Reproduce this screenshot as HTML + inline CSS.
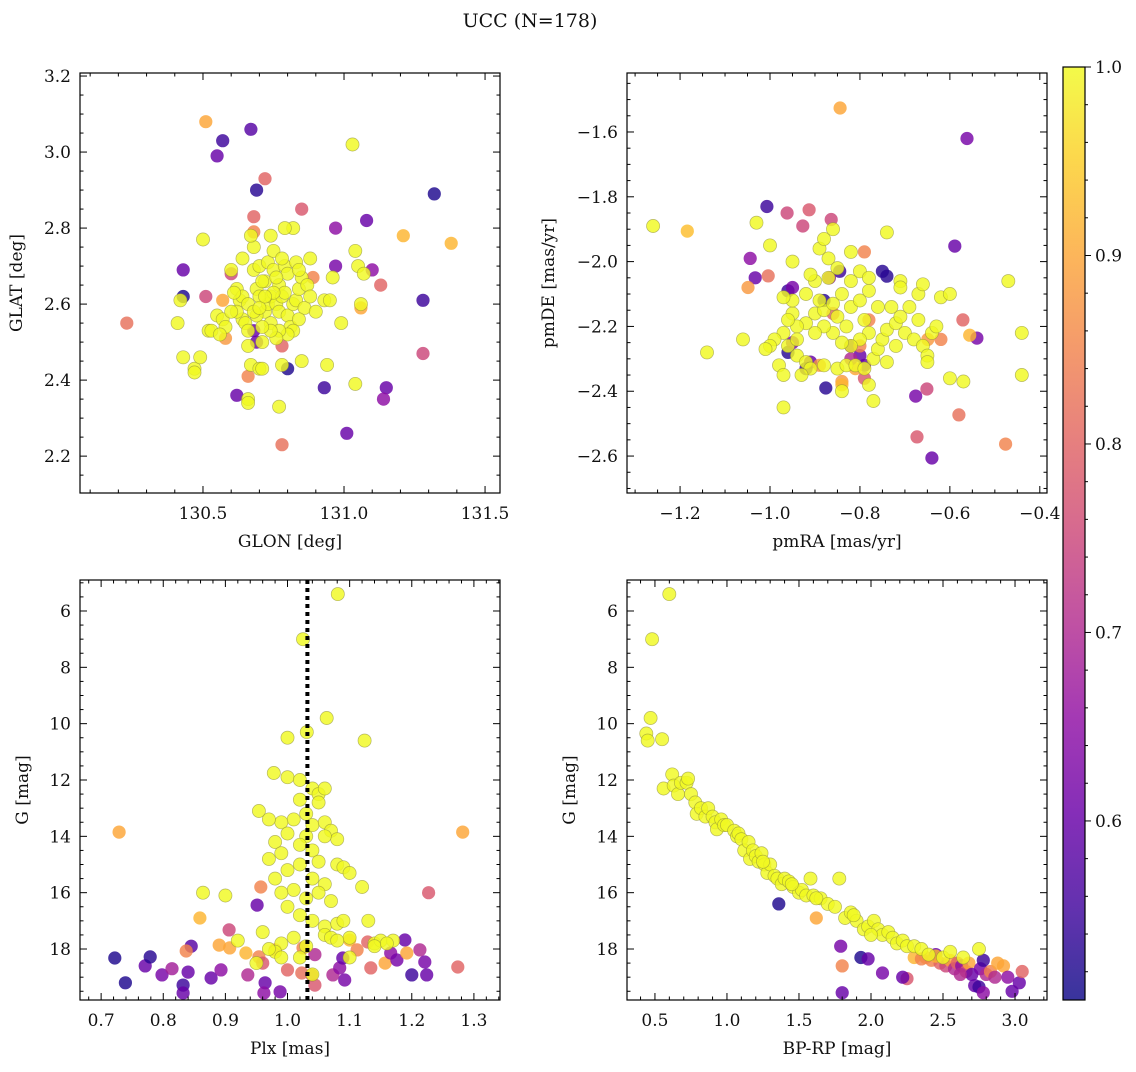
<!DOCTYPE html>
<html><head><meta charset="utf-8"><style>
html,body{margin:0;padding:0;background:#fff;}
svg text{font-family:"DejaVu Serif","Liberation Serif",serif;fill:#111;}
</style></head><body>
<svg id="fig" width="1136" height="1067" viewBox="0 0 1136 1067" xmlns="http://www.w3.org/2000/svg">
<defs><linearGradient id="cmap" x1="0" y1="1" x2="0" y2="0">
<stop offset="0" stop-color="#0d0887"/><stop offset="0.1" stop-color="#41049d"/><stop offset="0.2" stop-color="#6a00a8"/><stop offset="0.3" stop-color="#8f0da4"/><stop offset="0.4" stop-color="#b12a90"/><stop offset="0.5" stop-color="#cc4778"/><stop offset="0.6" stop-color="#e16462"/><stop offset="0.7" stop-color="#f2844b"/><stop offset="0.8" stop-color="#fca636"/><stop offset="0.9" stop-color="#fcce25"/><stop offset="1" stop-color="#f0f921"/></linearGradient></defs>
<text x="530" y="27" text-anchor="middle" font-size="19">UCC (N=178)</text>
</svg>
<script>
// ---- data: [x, y, membership probability] ----
const glonGlat = [
[130.51,3.08,.9],[130.57,3.03,.55],[130.55,2.99,.6],[130.67,3.06,.58],[130.69,2.90,.53],[130.72,2.93,.8],[131.03,3.02,1],[131.32,2.89,.52],[130.85,2.85,.78],[130.23,2.55,.82],[131.38,2.76,.92],[131.21,2.78,.92],[130.68,2.83,.8],[130.97,2.80,.65],[131.08,2.82,.6],[130.43,2.69,.6],[130.43,2.62,.52],[130.51,2.62,.75],[130.60,2.68,.75],[131.10,2.69,.65],[131.13,2.65,.8],[131.28,2.61,.55],[131.28,2.47,.75],[130.62,2.36,.6],[130.80,2.43,.52],[130.78,2.23,.82],[131.01,2.26,.6],[130.93,2.38,.55],[131.15,2.38,.6],[131.14,2.35,.65],[130.66,2.41,.85],[130.69,2.50,.6],[130.78,2.49,.8],[131.06,2.59,.9],[130.97,2.70,.62],[130.89,2.67,.85],[130.57,2.61,.9],[130.58,2.51,.88],[130.68,2.79,.85],[130.68,2.53,.6],
[130.42,2.61,1],[130.41,2.55,1],[130.43,2.46,1],[130.47,2.43,1],[130.47,2.42,1],[130.49,2.46,1],[130.52,2.53,1],[130.53,2.53,1],[130.55,2.57,1],[130.57,2.56,1],[130.60,2.69,1],[130.62,2.64,1],[130.63,2.61,1],[130.64,2.62,1],[130.64,2.56,1],[130.65,2.55,1],[130.66,2.53,1],[130.66,2.60,1],[130.66,2.49,1],[130.67,2.44,1],[130.66,2.35,1],[130.66,2.34,1],[130.70,2.43,1],[130.71,2.43,1],[130.71,2.50,1],[130.68,2.69,1],[130.69,2.64,1],[130.68,2.75,1],[130.70,2.70,1],[130.72,2.66,1],[130.73,2.71,1],[130.74,2.78,1],[130.75,2.69,1],[130.75,2.74,1],[130.72,2.58,1],[130.73,2.60,1],[130.74,2.62,1],[130.74,2.55,1],[130.76,2.60,1],[130.77,2.58,1],[130.77,2.65,1],[130.78,2.62,1],[130.79,2.63,1],[130.79,2.70,1],[130.80,2.68,1],[130.80,2.57,1],[130.81,2.54,1],[130.82,2.60,1],[130.83,2.61,1],[130.84,2.64,1],[130.85,2.67,1],[130.86,2.59,1],[130.84,2.56,1],[130.82,2.53,1],[130.80,2.52,1],[130.77,2.53,1],[130.76,2.51,1],[130.74,2.53,1],[130.71,2.54,1],[130.69,2.57,1],[130.70,2.62,1],[130.71,2.66,1],[130.78,2.44,1],[130.77,2.33,1],[130.85,2.45,1],[130.94,2.44,1],[130.99,2.55,1],[130.93,2.61,1],[130.95,2.61,1],[130.96,2.67,1],[131.04,2.74,1],[131.05,2.70,1],[131.07,2.68,1],[131.06,2.60,1],[131.04,2.39,1],[130.82,2.80,1],[130.79,2.80,1],[130.78,2.72,1],[130.83,2.71,1],[130.84,2.69,1],[130.87,2.65,1],[130.90,2.58,1],[130.88,2.62,1],[130.62,2.58,1],[130.61,2.63,1],[130.60,2.58,1],[130.58,2.54,1],[130.68,2.58,1],[130.70,2.59,1],[130.76,2.67,1],[130.75,2.63,1],[130.72,2.62,1],[130.50,2.77,1],[130.56,2.52,1],[130.64,2.72,1],[130.67,2.78,1],[130.88,2.72,1]];
const pmraPmde = [
[-0.844,-1.526,.9],[-0.562,-1.62,.62],[-1.184,-1.906,.93],[-1.007,-1.83,.55],[-0.962,-1.85,.75],[-0.913,-1.84,.78],[-0.864,-1.87,.75],[-0.927,-1.89,.75],[-1.044,-1.99,.65],[-1.033,-2.05,.6],[-1.004,-2.044,.82],[-1.049,-2.08,.88],[-0.876,-2.39,.53],[-0.676,-2.415,.62],[-0.673,-2.541,.78],[-0.64,-2.606,.6],[-0.651,-2.393,.75],[-0.58,-2.473,.82],[-0.476,-2.563,.85],[-0.589,-1.952,.6],[-0.571,-2.18,.8],[-0.54,-2.236,.62],[-0.556,-2.227,.92],[-0.62,-2.24,.85],[-0.649,-2.24,.88],[-0.75,-2.03,.53],[-0.74,-2.045,.53],[-0.79,-1.97,.85],[-0.845,-2.03,.55],[-0.868,-2.05,.65],[-0.96,-2.09,.55],[-0.95,-2.08,.62],[-0.82,-2.26,.6],[-0.84,-2.37,.88],[-0.84,-2.38,.92],[-0.80,-2.29,.6],[-0.79,-2.32,.6],[-0.80,-2.26,.85],[-0.91,-2.31,.6],[-0.92,-2.33,.55],[-0.96,-2.28,.53],[-0.95,-2.25,.62],[-0.89,-2.32,.88],[-0.79,-2.36,.78],[-0.86,-2.16,.8],[-0.88,-2.12,.53],[-0.78,-2.18,.85],[-0.81,-2.33,.9],[-0.82,-2.30,.7],
[-0.90,-2.16,1],[-0.88,-2.15,1],[-0.86,-2.13,1],[-0.85,-2.17,1],[-0.83,-2.20,1],[-0.82,-2.14,1],[-0.80,-2.12,1],[-0.79,-2.18,1],[-0.78,-2.22,1],[-0.80,-2.24,1],[-0.82,-2.26,1],[-0.84,-2.25,1],[-0.86,-2.22,1],[-0.88,-2.20,1],[-0.90,-2.22,1],[-0.92,-2.19,1],[-0.94,-2.20,1],[-0.95,-2.16,1],[-0.96,-2.18,1],[-0.97,-2.22,1],[-0.96,-2.26,1],[-0.94,-2.29,1],[-0.92,-2.31,1],[-0.91,-2.33,1],[-0.88,-2.32,1],[-0.85,-2.33,1],[-0.83,-2.32,1],[-0.81,-2.32,1],[-0.79,-2.33,1],[-0.77,-2.30,1],[-0.76,-2.27,1],[-0.75,-2.24,1],[-0.74,-2.21,1],[-0.72,-2.19,1],[-0.71,-2.17,1],[-0.73,-2.14,1],[-0.76,-2.14,1],[-0.78,-2.09,1],[-0.80,-2.03,1],[-0.82,-1.97,1],[-0.85,-2.02,1],[-0.87,-1.99,1],[-0.89,-1.96,1],[-0.88,-1.93,1],[-0.86,-1.90,1],[-0.87,-2.05,1],[-0.90,-2.06,1],[-0.92,-2.10,1],[-0.95,-2.12,1],[-0.97,-2.11,1],[-0.99,-2.24,1],[-1.00,-2.26,1],[-1.01,-2.27,1],[-0.98,-2.32,1],[-0.97,-2.35,1],[-0.97,-2.45,1],[-0.93,-2.35,1],[-0.78,-2.38,1],[-0.77,-2.43,1],[-0.74,-2.31,1],[-0.72,-2.26,1],[-0.70,-2.22,1],[-0.68,-2.24,1],[-0.66,-2.26,1],[-0.65,-2.29,1],[-0.65,-2.31,1],[-0.64,-2.22,1],[-0.63,-2.20,1],[-0.67,-2.18,1],[-0.69,-2.14,1],[-0.71,-2.06,1],[-0.71,-2.08,1],[-0.67,-2.10,1],[-0.66,-2.07,1],[-0.62,-2.11,1],[-0.60,-2.10,1],[-0.60,-2.36,1],[-0.57,-2.37,1],[-0.47,-2.06,1],[-0.44,-2.22,1],[-0.44,-2.35,1],[-0.74,-1.91,1],[-1.00,-1.95,1],[-1.03,-1.88,1],[-1.06,-2.24,1],[-1.14,-2.28,1],[-1.26,-1.89,1],[-0.91,-2.04,1],[-0.95,-2.00,1],[-0.89,-2.12,1],[-0.84,-2.10,1],[-0.82,-2.06,1],[-0.78,-2.05,1],[-0.84,-2.40,1],[-0.94,-2.24,1]];
const plxG = [
[0.722,18.32,.52],[0.739,19.2,.52],[0.771,18.6,.6],[0.779,18.28,.53],[0.798,18.92,.62],[0.814,18.7,.68],[0.832,19.28,.55],[0.832,19.56,.6],[0.84,18.82,.6],[0.845,17.9,.58],[0.837,18.07,.85],[0.877,19.03,.6],[0.893,18.74,.65],[0.89,17.86,.9],[0.907,17.96,.9],[0.906,17.32,.75],[0.933,18.14,.92],[0.936,18.92,.7],[0.954,18.28,.85],[0.96,18.5,.78],[0.964,19.2,.6],[0.962,19.56,.65],[0.988,19.52,.62],[0.957,15.8,.85],[0.951,16.44,.6],[0.98,18.03,.9],[1.0,18.74,.8],[1.023,18.85,.82],[1.025,17.96,.85],[1.044,18.2,.7],[1.039,18.92,.78],[1.044,19.28,.78],[1.073,18.92,.7],[1.084,18.67,.65],[1.089,18.32,.6],[1.092,19.1,.62],[1.1,17.68,.92],[1.112,18.03,.85],[1.129,17.75,.8],[1.134,18.67,.8],[1.157,18.5,.9],[1.166,18.14,.65],[1.176,18.39,.62],[1.189,17.68,.6],[1.192,18.14,.9],[1.2,18.92,.55],[1.213,18.03,.7],[1.221,18.46,.62],[1.224,18.92,.6],[1.227,16.0,.78],[1.274,18.64,.8],[0.729,13.85,.9],[1.282,13.85,.9],[0.859,16.9,.92],
[1.081,5.4,1],[1.025,7.0,1],[1.063,9.8,1],[1.0,10.5,1],[1.031,10.3,1],[1.124,10.6,1],[0.978,11.75,1],[0.954,13.1,1],[1.0,11.9,1],[1.02,12.0,1],[1.04,12.3,1],[1.05,12.5,1],[1.06,12.3,1],[1.05,12.8,1],[1.02,12.7,1],[1.03,13.2,1],[1.01,13.4,1],[0.99,13.5,1],[0.97,13.4,1],[1.04,13.6,1],[1.06,13.5,1],[1.07,13.8,1],[1.08,14.1,1],[1.06,14.0,1],[1.03,14.0,1],[1.00,13.9,1],[0.98,14.2,1],[1.02,14.3,1],[1.04,14.5,1],[0.99,14.6,1],[0.97,14.8,1],[1.05,14.9,1],[1.08,15.0,1],[1.09,15.1,1],[1.02,15.0,1],[1.00,15.2,1],[0.98,15.5,1],[1.04,15.5,1],[1.06,15.7,1],[1.10,15.3,1],[1.12,15.8,1],[1.01,15.9,1],[0.99,16.0,1],[1.03,16.2,1],[1.05,16.0,1],[1.07,16.3,1],[1.00,16.5,1],[1.02,16.8,1],[1.04,17.0,1],[1.06,17.2,1],[1.08,17.1,1],[1.09,17.0,1],[1.10,17.6,1],[1.06,17.5,1],[1.07,17.6,1],[1.01,17.6,1],[0.99,17.8,1],[1.03,17.9,1],[1.08,17.7,1],[1.13,17.0,1],[1.14,17.8,1],[1.15,17.7,1],[1.14,17.9,1],[1.17,17.7,1],[0.96,17.4,1],[0.98,18.1,1],[0.99,18.3,1],[0.97,18.0,1],[0.95,18.5,1],[0.92,17.7,1],[0.90,16.1,1],[0.864,16.0,1],[1.02,18.3,1],[1.16,17.8,1],[1.04,18.9,1],[1.10,18.3,1]];
const bprpG = [
[1.36,16.4,.52],[1.62,16.9,.9],[1.79,17.9,.62],[1.80,18.6,.85],[1.80,19.55,.6],[1.93,18.3,.52],[1.98,18.35,.6],[2.08,18.85,.62],[2.25,19.05,.78],[2.22,19.0,.6],[2.30,18.3,.92],[2.38,18.3,.9],[2.42,18.4,.85],[2.45,18.2,.6],[2.48,18.5,.8],[2.52,18.6,.75],[2.55,18.4,.9],[2.58,18.7,.7],[2.60,18.5,.8],[2.63,18.6,.65],[2.66,18.8,.78],[2.68,18.5,.9],[2.70,18.9,.6],[2.72,19.3,.6],[2.75,19.35,.55],[2.76,18.7,.62],[2.78,18.4,.55],[2.80,18.9,.7],[2.83,18.8,.85],[2.86,19.0,.7],[2.88,18.5,.9],[2.92,18.6,.9],[2.95,19.0,.65],[2.98,19.5,.6],[3.03,19.2,.6],[3.05,18.8,.8],[2.78,19.55,.65],[2.62,18.9,.7],[2.45,18.25,.92],[2.35,18.35,.85],
[0.60,5.4,1],[0.48,7.0,1],[0.47,9.8,1],[0.44,10.35,1],[0.45,10.6,1],[0.55,10.55,1],[0.56,12.3,1],[0.62,11.8,1],[0.63,12.2,1],[0.66,12.5,1],[0.68,12.1,1],[0.72,12.1,1],[0.73,11.95,1],[0.75,12.5,1],[0.78,12.8,1],[0.79,13.2,1],[0.82,13.0,1],[0.85,13.3,1],[0.87,13.0,1],[0.90,13.3,1],[0.92,13.5,1],[0.93,13.75,1],[0.96,13.4,1],[0.98,13.6,1],[1.00,13.6,1],[1.05,13.8,1],[1.07,14.0,1],[1.08,13.9,1],[1.10,14.1,1],[1.12,14.5,1],[1.15,14.2,1],[1.16,14.8,1],[1.18,14.5,1],[1.20,14.7,1],[1.22,14.9,1],[1.24,14.6,1],[1.26,15.0,1],[1.28,15.3,1],[1.30,15.0,1],[1.33,15.4,1],[1.35,15.5,1],[1.38,15.7,1],[1.40,15.5,1],[1.43,15.6,1],[1.46,15.8,1],[1.50,16.0,1],[1.52,15.9,1],[1.55,16.1,1],[1.58,15.5,1],[1.60,16.1,1],[1.65,16.2,1],[1.70,16.4,1],[1.75,16.5,1],[1.78,15.5,1],[1.82,16.9,1],[1.86,16.7,1],[1.90,17.0,1],[1.95,17.3,1],[1.98,17.2,1],[2.02,17.0,1],[2.05,17.3,1],[2.08,17.5,1],[2.12,17.4,1],[2.15,17.6,1],[2.18,17.8,1],[2.22,17.7,1],[2.25,17.9,1],[2.30,17.9,1],[2.35,18.0,1],[2.40,18.2,1],[2.50,18.3,1],[2.55,18.1,1],[2.75,18.0,1],[2.64,18.3,1],[2.00,17.5,1],[1.88,16.8,1],[1.62,16.2,1],[1.45,15.7,1],[1.25,14.9,1]];
const plxMedian = 1.032;
const cbarTicks = [0.6,0.7,0.8,0.9,1.0];

const NS='http://www.w3.org/2000/svg';
const svg=document.getElementById('fig');
function mk(tag,attrs,parent){const e=document.createElementNS(NS,tag);for(const k in attrs)e.setAttribute(k,attrs[k]);(parent||svg).appendChild(e);return e;}
const stops=[[0,[13,8,135]],[.1,[65,4,157]],[.2,[106,0,168]],[.3,[143,13,164]],[.4,[177,42,144]],[.5,[204,71,120]],[.6,[225,100,98]],[.7,[242,132,75]],[.8,[252,166,54]],[.9,[252,206,37]],[1,[240,249,33]]];
const VMIN=0.505,VMAX=1.0;
function cmap(v){let t=Math.max(0,Math.min(1,(v-VMIN)/(VMAX-VMIN)));for(let i=1;i<stops.length;i++){if(t<=stops[i][0]){const a=stops[i-1],b=stops[i];const f=(t-a[0])/(b[0]-a[0]);const c=a[1].map((x,j)=>Math.round(x+(b[1][j]-x)*f));return `rgb(${c})`;}}return 'rgb(240,249,33)';}
function fmt(v,dec){return v.toFixed(dec).replace('-','\u2212');}

function panel(o){
  const g=mk('g',{});
  
  
  const sx=v=>o.x0+(v-o.xmin)/(o.xmax-o.xmin)*(o.x1-o.x0);
  const sy=o.invert? v=>o.y0+(v-o.ymin)/(o.ymax-o.ymin)*(o.y1-o.y0) : v=>o.y1-(v-o.ymin)/(o.ymax-o.ymin)*(o.y1-o.y0);
  const pts=mk('g',{},g);
  
  
  o.data.forEach(d=>{const c=mk('circle',{cx:sx(d[0]).toFixed(1),cy:sy(d[1]).toFixed(1),r:6.6,fill:cmap(d[2]),'fill-opacity':0.82,stroke:d[2]>0.95?'#8a8a3a':'none','stroke-opacity':0.6,'stroke-width':0.7},pts);
    
    });
  if(o.vline!==undefined){const l=mk('line',{x1:sx(o.vline),x2:sx(o.vline),y1:o.y0,y2:o.y1,stroke:'#000','stroke-width':4,'stroke-dasharray':'4,4'},g);
    
    }
  const fr=mk('rect',{x:o.x0,y:o.y0,width:o.x1-o.x0,height:o.y1-o.y0,fill:'none',stroke:'#000','stroke-width':1.2},g);
  
  
  const ax=mk('g',{stroke:'#000','stroke-width':1},g);
  for(let k=Math.ceil(o.xmin/o.xminor-1e-6);k*o.xminor<=o.xmax;k++){const v=k*o.xminor;const x=sx(v);const maj=Math.abs(v/o.xmajor-Math.round(v/o.xmajor))<1e-6;const L=maj?7:3.5;
    mk('line',{x1:x,x2:x,y1:o.y1,y2:o.y1-L},ax);mk('line',{x1:x,x2:x,y1:o.y0,y2:o.y0+L},ax);
    if(maj){const t=mk('text',{x:x,y:o.y1+26,'text-anchor':'middle','font-size':17,stroke:'none'},g);t.textContent=fmt(v,o.xdec);}}
  for(let k=Math.ceil(o.ymin/o.yminor-1e-6);k*o.yminor<=o.ymax+1e-9;k++){const v=k*o.yminor;const y=sy(v);const maj=Math.abs(v/o.ymajor-Math.round(v/o.ymajor))<1e-6;const L=maj?7:3.5;
    mk('line',{x1:o.x0,x2:o.x0+L,y1:y,y2:y},ax);mk('line',{x1:o.x1,x2:o.x1-L,y1:y,y2:y},ax);
    if(maj){const t=mk('text',{x:o.x0-9,y:y+6,'text-anchor':'end','font-size':17,stroke:'none'},g);t.textContent=fmt(v,o.ydec);}}
  const xl=mk('text',{x:(o.x0+o.x1)/2,y:o.y1+54,'text-anchor':'middle','font-size':17},g);xl.textContent=o.xlabel;
  
  
  const yx=o.ylx,yy=(o.y0+o.y1)/2;
  const yl=mk('text',{x:yx,y:yy,'text-anchor':'middle','font-size':17,transform:`rotate(-90 ${yx} ${yy})`},g);yl.textContent=o.ylabel;
  
  
}
panel({name:'glon-glat-panel',data:glonGlat,x0:80,x1:500,y0:73,y1:493,xmin:130.064,xmax:131.553,ymin:2.103,ymax:3.208,xmajor:0.5,xminor:0.1,ymajor:0.2,yminor:0.05,xdec:1,ydec:1,xlabel:'GLON [deg]',ylabel:'GLAT [deg]',ylx:22});
panel({name:'pm-panel',data:pmraPmde,x0:627,x1:1047,y0:73,y1:493,xmin:-1.318,xmax:-0.384,ymin:-2.714,ymax:-1.418,xmajor:0.2,xminor:0.05,ymajor:0.2,yminor:0.05,xdec:1,ydec:1,xlabel:'pmRA [mas/yr]',ylabel:'pmDE [mas/yr]',ylx:554});
panel({name:'plx-g-panel',data:plxG,x0:80,x1:500,y0:580,y1:1000,xmin:0.666,xmax:1.342,ymin:4.9,ymax:19.81,invert:true,xmajor:0.1,xminor:0.02,ymajor:2,yminor:0.5,xdec:1,ydec:0,xlabel:'Plx [mas]',ylabel:'G [mag]',ylx:28});
panel({name:'cmd-panel',data:bprpG,x0:627,x1:1047,y0:580,y1:1000,xmin:0.306,xmax:3.222,ymin:4.9,ymax:19.81,invert:true,xmajor:0.5,xminor:0.1,ymajor:2,yminor:0.5,xdec:1,ydec:0,xlabel:'BP-RP [mag]',ylabel:'G [mag]',ylx:575});
// median parallax line drawn on plx panel
(function(){const x=80+(plxMedian-0.666)/(1.342-0.666)*420;const l=mk('line',{x1:x,x2:x,y1:580,y2:1000,stroke:'#000','stroke-width':4,'stroke-dasharray':'4,4'});

})();

// colorbar
const cb=mk('g',{});


const CX0=1063,CX1=1085,CY0=67,CY1=1000;
mk('rect',{x:CX0,y:CY0,width:CX1-CX0,height:CY1-CY0,fill:'url(#cmap)','fill-opacity':0.82,stroke:'#000','stroke-width':1.2},cb);
const cy=v=>CY1-(v-VMIN)/(VMAX-VMIN)*(CY1-CY0);
for(let k=26;k<=50;k++){const v=k*0.02;if(v<VMIN)continue;const y=cy(v);const maj=k%5===0;mk('line',{x1:CX1,x2:CX1+(maj?6:3),y1:y,y2:y,stroke:'#000'},cb);}
cbarTicks.forEach(v=>{const t=mk('text',{x:CX1+10,y:cy(v)+6,'font-size':17},cb);t.textContent=v.toFixed(1);
  
  });
</script>
</body></html>
